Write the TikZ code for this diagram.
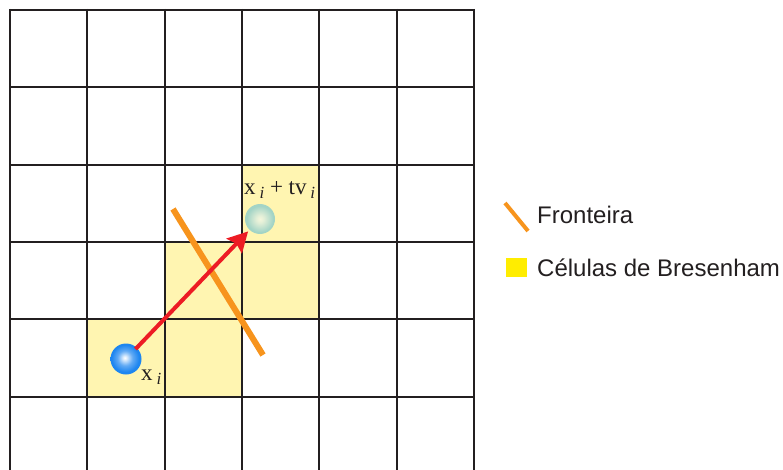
\documentclass[tikz,border=0pt]{standalone}
\usepackage{fontspec}
\setmainfont{Liberation Serif}
\newfontfamily\legendfont{Liberation Sans}
\usetikzlibrary{arrows.meta}
\definecolor{gridcol}{HTML}{231F20}
\definecolor{cellyellow}{HTML}{FFF5B1}
\definecolor{legyellow}{HTML}{FFED00}
\definecolor{bordercol}{HTML}{F7941D}
\definecolor{arrowred}{HTML}{ED1C24}
\definecolor{ballblue}{HTML}{1E86F0}
\definecolor{ballgreen}{HTML}{A3D4C6}
\definecolor{ballgreenc}{HTML}{F4F6DC}
\pgfdeclareradialshading{blueball}{\pgfpoint{-2bp}{2bp}}{color(0bp)=(white); color(3bp)=(white!85!ballblue); color(12bp)=(ballblue!70!white); color(22bp)=(ballblue); color(50bp)=(ballblue)}
\pgfdeclareradialshading{greenball}{\pgfpoint{0bp}{0bp}}{color(0bp)=(ballgreenc); color(6bp)=(ballgreenc!80!ballgreen); color(22bp)=(ballgreen); color(50bp)=(ballgreen)}
\newcommand{\subi}{\,\raisebox{-4pt}{\fontsize{17}{17}\selectfont\itshape i}}
\tikzset{
  gridline/.style={draw=gridcol, line width=2pt},
  bcell/.style={fill=cellyellow, draw=none},
  sphere/.style={circle, inner sep=0pt, draw=none},
  boundary/.style={draw=bordercol, line width=6pt},
  moveline/.style={draw=arrowred, line width=4pt, -{Stealth[length=20pt,width=21pt,inset=3pt]}},
  lbl/.style={font=\fontsize{23}{25}\selectfont, text=gridcol, inner sep=0pt, anchor=base west},
  legtext/.style={font=\legendfont\fontsize{24}{28}\selectfont, text=gridcol, inner sep=0pt, anchor=base west}
}
\begin{document}
\begin{tikzpicture}[x=1pt,y=-1pt]
\useasboundingbox (0,0) rectangle (783,470);
\fill[white] (0,0) rectangle (783,470);
\def\c{77.3}
% Bresenham cells
\fill[bcell] (87.3,319.2) rectangle (164.6,396.5);
\fill[bcell] (164.6,319.2) rectangle (241.9,396.5);
\fill[bcell] (164.6,241.9) rectangle (241.9,319.2);
\fill[bcell] (241.9,241.9) rectangle (319.2,319.2);
\fill[bcell] (241.9,164.6) rectangle (319.2,241.9);
% grid
\foreach \k in {0,...,6} {
  \draw[gridline] ({10+\k*\c},9) -- ({10+\k*\c},471);
}
\foreach \k in {0,...,5} {
  \draw[gridline] (9,{10+\k*\c}) -- (474.8,{10+\k*\c});
}
% boundary
\coordinate (b1) at (173,209);
\coordinate (b2) at (263,355);
\draw[boundary] (b1) -- (b2);
% spheres
\node[sphere, minimum size=31pt, shading=blueball] (xi) at (126,359) {};
\node[sphere, minimum size=30pt, shading=greenball] (xf) at (260,219) {};
\draw[moveline, shorten >=2pt, shorten <=-2pt] (xi) -- (xf);
% labels
\node[lbl] (lxi) at (141,380) {x\subi};
\node[lbl] (lxf) at (244,195) {x\subi{} + tv\subi};
% legend
\coordinate (l1) at (505,203);
\coordinate (l2) at (528,231);
\draw[draw=bordercol, line width=4pt] (l1) -- (l2);
\node[legtext] (tf) at (537,223) {Fronteira};
\fill[legyellow] (506,258) rectangle (527,277);
\node[legtext] (tc) at (537,276) {Células de Bresenham};
\end{tikzpicture}
\end{document}
